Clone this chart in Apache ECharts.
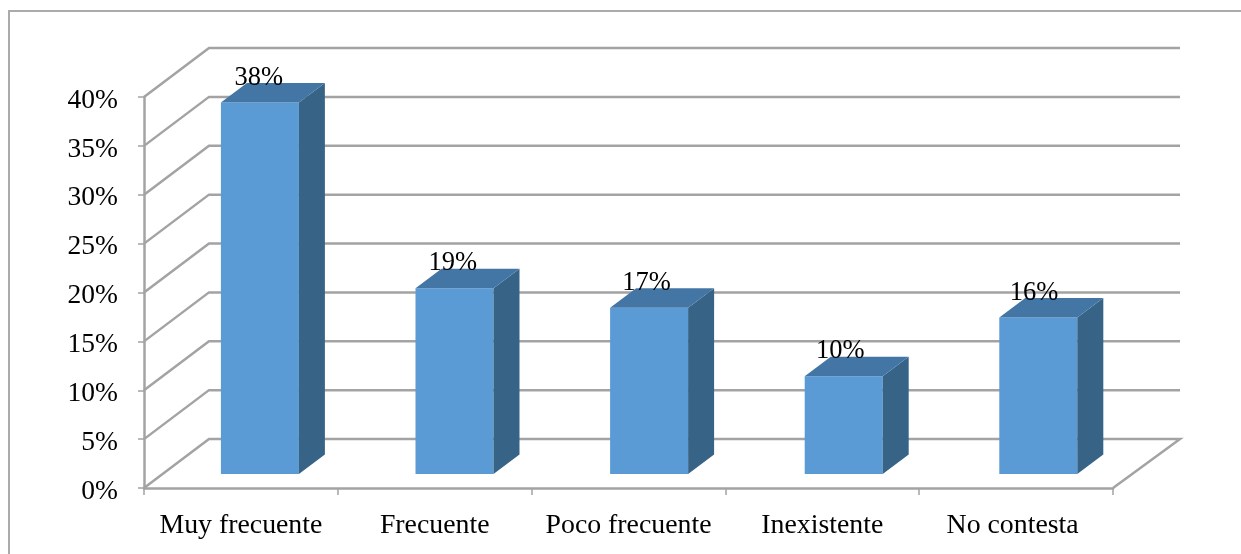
<!DOCTYPE html>
<html><head><meta charset="utf-8">
<style>html,body{margin:0;padding:0;background:#fff}#c{width:1241px;height:554px}</style>
<script src="https://cdn.jsdelivr.net/npm/echarts@6/dist/echarts.min.js"></script>
</head><body><div id="c"></div>
<script>
const categories = ['Muy frecuente','Frecuente','Poco frecuente','Inexistente','No contesta'];
const values = [38,19,17,10,16];
const ticks = [0,5,10,15,20,25,30,35,40];

const font = 'Liberation Serif, Times New Roman, serif';
const wallDx = 65, wallDy = -49;
const barDx = 26, barDy = -19.5, barW = 78, barOffX = 19, barOffY = -14, barDrift = 0.8;
const gridColor = '#a3a3a3';

const chart = echarts.init(document.getElementById('c'), null, {renderer:'canvas'});
chart.setOption({
  animation:false,
  backgroundColor:'#fff',
  textStyle:{fontFamily:font},
  graphic:[{type:'polyline',silent:true,z:-1,shape:{points:[[9,554],[9,11],[1241,11]]},
    style:{fill:'none',stroke:'#ababab',lineWidth:2}}],
  grid:{left:144,right:128,top:97,bottom:66,containLabel:false},
  xAxis:{type:'category',boundaryGap:true,
    data:categories.map((c,i)=>i===4?{value:c,textStyle:{padding:[0,7,0,0]}}:c),
    axisLine:{lineStyle:{color:gridColor,width:2.5}},
    axisTick:{show:true,length:7,interval:0,alignWithLabel:false,lineStyle:{color:gridColor,width:1.5}},
    axisLabel:{color:'#000',fontSize:27.8,fontFamily:font,margin:24,interval:0,hideOverlap:false},
    splitLine:{show:false}},
  yAxis:{type:'value',min:0,max:40,interval:5,
    axisLine:{show:true,lineStyle:{color:gridColor,width:2.5}},
    axisTick:{show:true,length:6,lineStyle:{color:gridColor,width:1.5}},
    axisLabel:{color:'#000',fontSize:27.5,fontFamily:font,margin:26,formatter:'{a|{value}%}',
      rich:{a:{color:'#000',fontSize:27.5,fontFamily:font,padding:[7,0,0,0]}}},
    splitLine:{show:false}},
  series:[
    {type:'custom',coordinateSystem:'cartesian2d',z:1,silent:true,
     data:ticks.map(t=>[0,t]),
     renderItem(p,api){
       const v=api.value(1);
       const a=api.coord([0,v]);
       const x0=p.coordSys.x, x1=x0+p.coordSys.width;
       const pts=[[x0,a[1]],[x0+wallDx,a[1]+wallDy],[x1+wallDx+2,a[1]+wallDy]];
       if(v===0) pts.push([x1,a[1]]);
       return {type:'polyline',shape:{points:pts},silent:true,
         style:{fill:'none',stroke:gridColor,lineWidth:2.5}};
     }},
    {type:'custom',coordinateSystem:'cartesian2d',z:2,silent:true,
     data:values.map((v,i)=>[i,v]),
     renderItem(p,api){
       const i=api.value(0), v=api.value(1);
       const top=api.coord([i,v]), base=api.coord([i,0]);
       const l=top[0]+barOffX+barDrift*i-barW/2, r=l+barW;
       const t=top[1]+barOffY, b=base[1]+barOffY;
       return {type:'group',silent:true,children:[
         {type:'rect',shape:{x:l,y:t,width:barW,height:b-t},style:{fill:'#5b9bd5'}},
         {type:'polygon',shape:{points:[[r,t],[r+barDx,t+barDy],[r+barDx,b+barDy],[r,b]]},style:{fill:'#376387'}},
         {type:'polygon',shape:{points:[[l,t],[l+barDx,t+barDy],[r+barDx,t+barDy],[r,t]]},style:{fill:'#4376a4'}},
         {type:'text',z2:10,style:{text:v+'%',x:top[0]+18,y:t-25,align:'center',verticalAlign:'middle',
            fill:'#000',fontSize:26.5,fontFamily:font}}
       ]};
     }}
  ]
});
</script></body></html>
